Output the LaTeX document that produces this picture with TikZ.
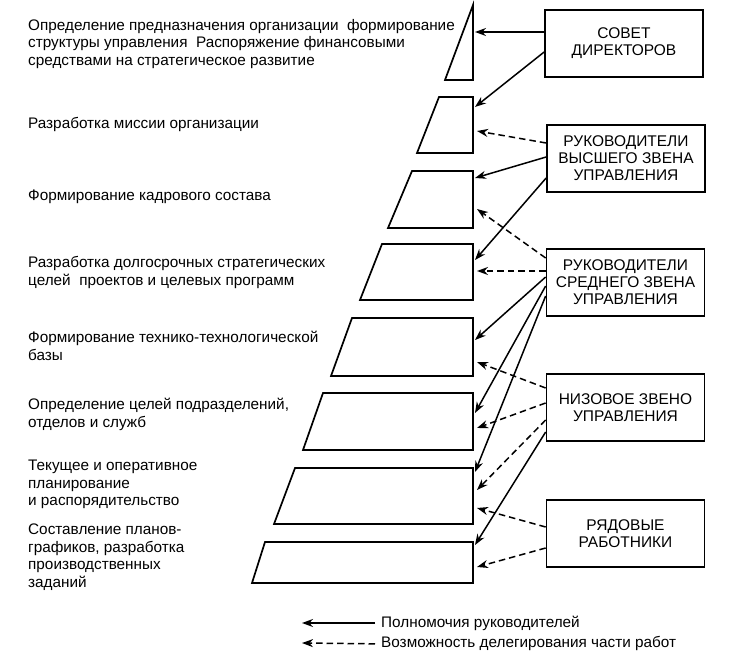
\documentclass[tikz,border=0pt]{standalone}
\usepackage{fontspec}
\setmainfont{Liberation Sans}
\usetikzlibrary{arrows.meta, positioning}

\begin{document}
\begin{tikzpicture}[x=1pt,y=-1pt,>={Stealth[length=11pt,width=8pt]},
      % every node/.style={draw=red},
      layer/.style={draw,line width=1.7pt},
      box/.style={draw,line width=1.7pt,minimum width=158pt,minimum height=67pt,
        align=center,inner sep=2pt,font=\fontsize{15.5}{17}\selectfont},
      task/.style={anchor=west,align=left,inner sep=0pt,font=\fontsize{15.3}{17.5}\selectfont},
      auth/.style={->,line width=1.5pt},
      deleg/.style={->,line width=1.5pt,dash pattern=on 6.5pt off 4pt}]
      \useasboundingbox (0,0) rectangle (734,660);
      % pyramid
      \draw[layer] (473,5) -- (473,80) -- (445,80) -- cycle;
      \foreach \yt/\xt/\yb/\xb in {97/439/153/417, 171/412/228/388, 244/382/300/360,
          318/352/376/331, 393/323/450/303, 468/295/524/274, 542/265/583/252}
        \draw[layer] (\xt,\yt) -- (473,\yt) -- (473,\yb) -- (\xb,\yb) -- cycle;
      % arrow ends on the layers
      \coordinate (l1)  at (475,32);
      \coordinate (l2)  at (475,107);
      \coordinate (l2d) at (477,131);
      \coordinate (l3)  at (475,178);
      \coordinate (l3d) at (477,209);
      \coordinate (l4)  at (475,260);
      \coordinate (l4d) at (477,271);
      \coordinate (l5)  at (475,340);
      \coordinate (l5d) at (477,362);
      \coordinate (l6)  at (475,413);
      \coordinate (l6d) at (477,428);
      \coordinate (l7)  at (475,472);
      \coordinate (l7d) at (477,490);
      \coordinate (l7e) at (477,508);
      \coordinate (l8)  at (475,545);
      \coordinate (l8d) at (477,567);
      % levels
      \node[box] (sovet) at (624,43.5)  {СОВЕТ\\ДИРЕКТОРОВ};
      \node[box] (vys)   at (626,158.5) {РУКОВОДИТЕЛИ\\ВЫСШЕГО ЗВЕНА\\УПРАВЛЕНИЯ};
      \node[box] (sred)  at (625.5,282.5) {РУКОВОДИТЕЛИ\\СРЕДНЕГО ЗВЕНА\\УПРАВЛЕНИЯ};
      \node[box] (niz)   at (625.5,407.5) {НИЗОВОЕ ЗВЕНО\\УПРАВЛЕНИЯ};
      \node[box] (ryad)  at (625.5,533.5) {РЯДОВЫЕ\\РАБОТНИКИ};
      % tasks
      \node[task] (t1) at (28,44) {Определение предназначения организации\ \ формирование\\
        структуры управления\ \ Распоряжение финансовыми\\средствами на стратегическое развитие};
      \node[task] (t2) at (28,124) {Разработка миссии организации};
      \node[task] (t3) at (28,197) {Формирование кадрового состава};
      \node[task] (t4) at (28,272.5) {Разработка долгосрочных стратегических\\целей\ \ проектов и целевых программ};
      \node[task] (t5) at (28,346) {Формирование технико-технологической\\базы};
      \node[task] (t6) at (28,414.5) {Определение целей подразделений,\\отделов и служб};
      \node[task] (t7) at (28,484.5) {Текущее и оперативное\\планирование\\и распорядительство};
      \node[task] (t8) at (28,557) {Составление планов-\\графиков, разработка\\производственных\\заданий};
      \path[auth]
      ([yshift=11.5pt]sovet.west) edge (l1)
      ([yshift=-8.5pt]sovet.west) edge (l2)
      ([yshift=1.5pt]vys.west) edge (l3)
      ([yshift=-19.5pt]vys.west) edge (l4)
      ([yshift=5.5pt]sred.west) edge (l5)
      ([yshift=-3.5pt]sred.west) edge (l6)
      ([yshift=-13.5pt]sred.west) edge (l7)
      ([yshift=-24.5pt]niz.west) edge (l8);
      \path[deleg]
      ([yshift=15.5pt]vys.west) edge (l2d)
      ([yshift=24.5pt]sred.west) edge (l3d)
      ([yshift=11.5pt]sred.west) edge (l4d)
      ([yshift=19.5pt]niz.west) edge (l5d)
      ([yshift=4.5pt]niz.west) edge (l6d)
      ([yshift=-12.5pt]niz.west) edge (l7d)
      ([yshift=6.5pt]ryad.west) edge (l7e)
      ([yshift=-14.5pt]ryad.west) edge (l8d);
      % legend
      \node[task,inner sep=3pt] (leg1) at (378,623) {Полномочия руководителей};
      \node[task,inner sep=3pt] (leg2) [below=0pt of leg1.south west,anchor=north west] {Возможность делегирования части работ};
      \coordinate (k1) at (302,623);
      \coordinate (k2) at (302,643);
      \draw[auth,shorten <=3pt] (leg1.west) -- (k1);
      \draw[deleg,shorten <=3pt] (leg2.west) -- (k2);
    \end{tikzpicture}
\end{document}
